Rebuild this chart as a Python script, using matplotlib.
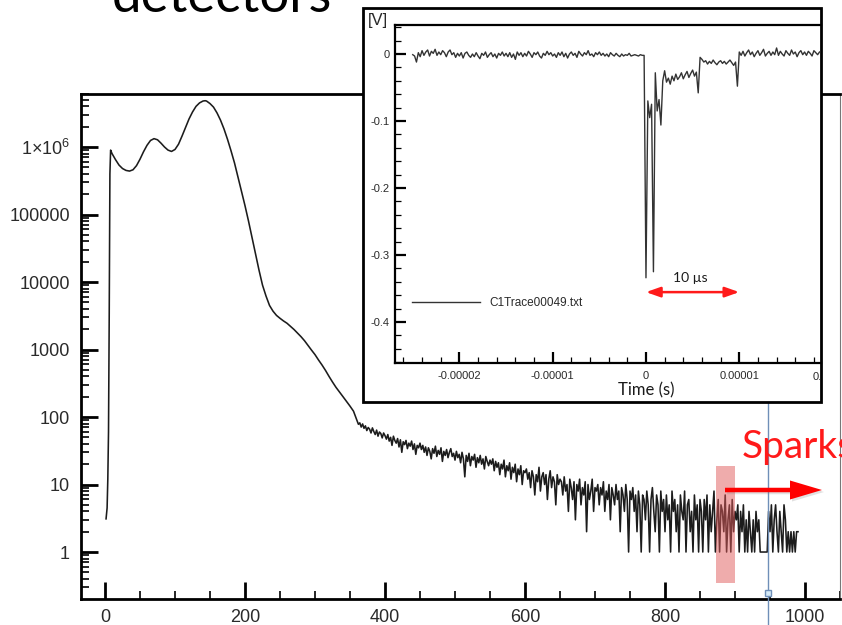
import numpy as np
import matplotlib
matplotlib.use("Agg")
import matplotlib.pyplot as plt
from matplotlib.ticker import MultipleLocator, LogLocator, FuncFormatter, NullFormatter, FixedLocator
from matplotlib.patches import Rectangle, FancyArrow
from matplotlib.lines import Line2D
from matplotlib.transforms import blended_transform_factory

plt.rcParams["font.family"] = ["Liberation Sans", "DejaVu Sans"]
plt.rcParams["axes.unicode_minus"] = False
plt.rcParams["mathtext.fontset"] = "custom"
plt.rcParams["mathtext.rm"] = "Liberation Sans"
plt.rcParams["mathtext.it"] = "Liberation Sans:italic"
plt.rcParams["mathtext.bf"] = "Liberation Sans:bold"

# ---------------- pulse-height spectrum (counts per channel) ----------------
peak_channels = [1.5, 3, 4, 5, 6, 7, 8, 10, 15, 20, 25, 30, 35, 40, 45, 50, 55, 60, 65, 70,
                 75, 80, 85, 90, 95, 100, 105, 110, 115, 120, 125, 130, 135, 140, 143,
                 145, 150, 155, 160, 165, 170, 175, 180, 185, 190, 195, 200, 205, 210,
                 215, 220, 225, 230, 235, 240, 245, 250, 255, 260, 265, 270, 275, 280,
                 285, 290, 295, 300, 305, 310, 315, 320, 325, 330, 335, 340, 345, 350, 355]
peak_counts = [3.1, 4.5, 12, 60, 3000, 4.0e5, 9.0e5, 8.0e5, 6.5e5, 5.4e5, 4.8e5, 4.5e5,
               4.4e5, 4.6e5, 5.3e5, 6.6e5, 8.5e5, 1.06e6, 1.25e6, 1.33e6, 1.28e6, 1.14e6,
               1.0e6, 9.0e5, 8.6e5, 9.2e5, 1.1e6, 1.45e6, 1.95e6, 2.6e6, 3.3e6, 4.0e6,
               4.5e6, 4.8e6, 4.85e6, 4.8e6, 4.4e6, 3.9e6, 3.2e6, 2.5e6, 1.85e6, 1.3e6,
               8.8e5, 5.8e5, 3.6e5, 2.2e5, 1.35e5, 8.0e4, 4.6e4, 2.6e4, 1.5e4, 9.0e3,
               6.2e3, 4.5e3, 3.7e3, 3.2e3, 2.9e3, 2.65e3, 2.45e3, 2.2e3, 1.98e3, 1.75e3,
               1.55e3, 1.35e3, 1.15e3, 980, 840, 700, 590, 490, 400, 330, 275, 235, 200,
               170, 145, 122]

tail_start, tail_step = 360, 2
tail_counts = [
    88, 78, 82, 71, 79, 68, 74, 63, 70, 66, 58, 69, 61, 55, 64, 52, 60, 57, 49, 58, 53,
    47, 55, 44, 50, 38, 52, 45, 41, 48, 36, 46, 30, 43, 39, 45, 34, 41, 37, 44, 33, 40, 28, 38, 35, 41,
    33, 38, 30, 36, 27, 35, 31, 24, 34, 29, 37, 26, 32, 28, 35, 22, 31, 27, 33, 25, 30, 34, 26, 29, 23,
    31, 25, 28, 21, 30, 24, 13, 27, 22, 29, 19, 26, 23, 28, 18, 25, 21, 27, 20, 24, 17, 26, 22, 19, 23,
    20, 24, 16, 22, 18, 21, 14, 20, 17, 23, 13, 19, 16, 21, 12, 18, 15, 20, 11, 17, 14, 19, 10, 16, 15,
    17, 12, 15, 9, 16, 13, 7, 14, 11, 18, 8, 13, 15, 10, 14, 6, 12, 16, 9, 13, 11, 5, 14, 10, 12,
    11, 7, 13, 8, 10, 4, 12, 9, 6, 11, 3, 10, 8, 12, 5, 9, 7, 11, 2, 10, 6, 8, 12, 4, 9,
    8, 10, 5, 9, 7, 11, 4, 8, 6, 10, 3, 9, 7, 5, 10, 6, 8, 2, 9, 7, 4, 10, 6, 1, 8,
    6, 9, 4, 7, 2, 8, 5, 1, 7, 6, 3, 8, 5, 1, 6, 9, 4, 2, 7, 5, 1, 8, 4, 6, 2,
    7, 3, 5, 1, 8, 4, 6, 2, 5, 1, 7, 4, 3, 8, 1, 5, 6, 2, 4, 1, 7, 3, 5, 1, 6,
    4, 1, 6, 3, 7, 1, 5, 2, 4, 8, 1, 3, 6, 1, 5, 4, 2, 7, 1, 3, 5, 1, 6, 2, 4,
    3, 5, 1, 4, 2, 5, 1, 3, 1, 4, 2, 1, 3, 1, 4, 2, 3, 1, 1, 1, 1, 1, 1, 4, 2,
    5, 1, 3, 5, 2, 1, 4, 2, 1, 5, 3, 1, 2, 1, 2, 1, 2, 1, 2, 2,
]
x_ticks_main = [0, 200, 400, 600, 800, 1000]
y_ticks_main = [1, 10, 100, 1000, 10000, 100000, 1000000]
spark_window = (873, 900)      # channels highlighted as sparks
cursor_channel = 947

# ---------------- oscilloscope trace (volts, in mV) ----------------
trace_t0, trace_dt = -2.5e-5, 2e-7
trace_mv = [
    -1, -3, -12, 2, -4, 5, -2, 3, 6, -3, 4, 1, 7, -2, 3, -1, 5, 2, -4, 3, 6, -1, 2, -5, 1,
    -3, 2, -6, 1, 3, -2, -5, 0, -4, 2, -3, -7, 1, -2, 3, -5, -1, 2, -4, 0, -6, 1, -2, 3, -3,
    1, -4, 2, -5, 0, -8, 3, -2, 2, -4, 1, -3, 4, 0, -5, 2, -1, 3, -3, -6, 1, -2, 4, -1, 2,
    -3, 0, -5, 2, -2, 3, -4, 1, -6, 0, 3, -2, 1, -5, 4, 0, -3, 2, -1, 5, -2, 0, -4, 2, -1,
    3, -2, 1, -3, 0, -4, 2, -1, -3, 1, -2, -4, 0, -3, -1, -2, 1, -3, -2, -1, -2, -3, -1, -2, -2,
    -334, -70, -95, -75, -325, -28, -85, -68, -106, -40, -25,
    -42, -36, -45, -33, -40, -30, -38, -34, -28, -37, -31, -26, -35, -29, -24, -33, -27,
    -58, -5,
    -8, -12, -10, -15, -11, -14, -9, -13, -16, -12, -10, -14, -11, -15, -12, -9, -13, -17, -12,
    -48, 3,
    -2, 4, -3, 2, 6, -1, 3, -4, 1, 5, -2, 2, 7, -3, 1, 4, -2, 3, -1, 9, -2, 4, 0, -3, 5,
    1, -2, 6, 0, 3, -4, 2, 5, -1, 3, -2, 4, 1, -3, 5, 2, -1, 3,
]
trace_name = "C1Trace00049.txt"
scale_bar = (0.0, 1.0e-5)      # 10 microseconds

# ---------------- figure ----------------
W, H = 842, 625
fig = plt.figure(figsize=(W / 100, H / 100), dpi=100, facecolor="white")


def fx(px):
    return px / W


def fy(py):
    return 1 - py / H


# main spectrum axes
ax = fig.add_axes([fx(81), fy(599), fx(840) - fx(81), fy(94) - fy(599)], zorder=0)
channels = np.concatenate([peak_channels,
                           tail_start + tail_step * np.arange(len(tail_counts))])
counts = np.concatenate([peak_counts, tail_counts])
ax.plot(channels, counts, color="#1c1c1c", lw=1.15, zorder=2)
ax.set_yscale("log")
ax.set_xlim(-34.3, 1050)
ax.set_ylim(0.2014, 6.1e6)

ax.xaxis.set_major_locator(FixedLocator(x_ticks_main))
ax.xaxis.set_minor_locator(MultipleLocator(50))
ax.yaxis.set_major_locator(FixedLocator(y_ticks_main))
ax.yaxis.set_minor_locator(LogLocator(base=10, subs=np.arange(2, 10), numticks=20))
ax.yaxis.set_minor_formatter(NullFormatter())


def log_label(v, pos):
    e = int(round(np.log10(v)))
    if e >= 6:
        return r"$1{\times}10^{%d}$" % e
    return "%d" % round(v)


ax.yaxis.set_major_formatter(FuncFormatter(log_label))
ax.tick_params(which="both", direction="in", top=False, right=False, colors="black",
               labelcolor="#2a2a2a")
ax.tick_params(which="major", length=12, width=2.0, labelsize=13)
ax.tick_params(which="minor", length=6, width=1.2)
ax.tick_params(axis="y", which="major", pad=8)
ax.tick_params(axis="x", which="major", pad=7)
for side in ("left", "bottom", "top"):
    ax.spines[side].set_linewidth(2.0)
    ax.spines[side].set_color("black")
ax.spines["right"].set_linewidth(0.8)
ax.spines["right"].set_color("#777777")

ax.axvspan(spark_window[0], spark_window[1], ymin=0.0317, ymax=0.263,
           facecolor="#e05a5a", alpha=0.5, lw=0, zorder=3)

# cursor line
cx = ax.transData.transform((cursor_channel, 1))[0] / W
fig.add_artist(Line2D([cx, cx], [0, fy(94)], transform=fig.transFigure,
                      color="#6f8fb8", lw=1.0, zorder=1))
fig.add_artist(Line2D([cx], [fy(593)], transform=fig.transFigure, marker="s", ms=5,
                      mfc="#d6ebf8", mec="#6f8fb8", mew=1.0, zorder=1.1))

# inset frame and trace axes
frame = Rectangle((fx(363), fy(402)), fx(821) - fx(363), fy(8) - fy(402),
                  transform=fig.transFigure, facecolor="white", edgecolor="black",
                  lw=2.0, zorder=2)
fig.add_artist(frame)

ax_in = fig.add_axes([fx(395), fy(363), fx(821) - fx(395), fy(25) - fy(363)], zorder=3)
ax_in.patch.set_alpha(0)
t = trace_t0 + trace_dt * np.arange(len(trace_mv))
ax_in.plot(t, np.array(trace_mv) / 1000.0, color="#333333", lw=1.0, label=trace_name)
ax_in.set_xlim(-2.69e-5, 1.876e-5)
ax_in.set_ylim(-0.4612, 0.0433)
ax_in.xaxis.set_major_locator(MultipleLocator(1e-5))
ax_in.xaxis.set_minor_locator(MultipleLocator(2e-6))
ax_in.yaxis.set_major_locator(MultipleLocator(0.1))
ax_in.yaxis.set_minor_locator(MultipleLocator(0.02))


def time_label(v, pos):
    return "0" if abs(v) < 1e-12 else "%.5f" % v


def volt_label(v, pos):
    return "0" if abs(v) < 1e-9 else "%g" % round(v, 3)


ax_in.xaxis.set_major_formatter(FuncFormatter(time_label))
ax_in.yaxis.set_major_formatter(FuncFormatter(volt_label))
ax_in.tick_params(which="both", direction="in", top=False, right=False,
                  labelcolor="#2a2a2a", labelsize=8)
ax_in.tick_params(which="major", length=8, width=1.6)
ax_in.tick_params(which="minor", length=4, width=0.9)
ax_in.tick_params(axis="x", which="major", pad=6)
ax_in.tick_params(axis="y", which="major", pad=4)
for side in ("left", "bottom", "top"):
    ax_in.spines[side].set_linewidth(1.6)
ax_in.spines["right"].set_visible(False)

# partially hidden last tick label, cut by the frame
cut = ax_in.text(2e-5, -0.027, time_label(2e-5, None),
                 transform=blended_transform_factory(ax_in.transData, ax_in.transAxes),
                 ha="center", va="top", fontsize=8, color="#2a2a2a", clip_on=True)
cut.set_clip_path(frame)

ax_in.legend(loc="center left", bbox_to_anchor=(0.0399, 0.1775), frameon=False,
             fontsize=8.5, handlelength=5.8, handletextpad=0.75, borderpad=0,
             borderaxespad=0, labelcolor="#2a2a2a")

ax_in.annotate("", xy=(scale_bar[1], -0.3554), xytext=(scale_bar[0], -0.3554),
               arrowprops=dict(arrowstyle="<|-|>,head_length=0.85,head_width=0.3",
                               color="#ff1a1a", lw=1.8, shrinkA=0, shrinkB=0,
                               mutation_scale=10))
ax_in.text((scale_bar[0] + scale_bar[1]) / 2 - 0.03e-5, -0.3405, "10 µs", fontsize=10,
           family=["Lato", "DejaVu Sans"], ha="center", va="baseline", color="#1a1a1a")

fig.text(fx(378), fy(20), "[V]", ha="center", va="center", fontsize=12, color="#2a2a2a",
         zorder=4)
fig.text(fx(646), fy(390), "Time (s)", ha="center", va="center", fontsize=12,
         family=["Lato", "DejaVu Sans"], color="#1a1a1a", zorder=4)

# slide title fragment and spark annotation
fig.text(fx(112), fy(12), "detectors", ha="left", va="baseline", fontsize=38,
         family=["Lato", "DejaVu Sans"], color="black", zorder=4)
fig.text(fx(742), fy(458), "Sparks", ha="left", va="baseline", fontsize=28,
         family=["Lato", "DejaVu Sans"], color="#ff1a1a", zorder=5)
shadow = FancyArrow(7.27, 1.33, 0.97, 0, width=0.045, head_width=0.19, head_length=0.32,
                    length_includes_head=True, transform=fig.dpi_scale_trans,
                    color="#888888", alpha=0.25, lw=0, zorder=4)
fig.add_artist(shadow)
arrow = FancyArrow(7.25, 1.35, 0.97, 0, width=0.045, head_width=0.19, head_length=0.32,
                   length_includes_head=True, transform=fig.dpi_scale_trans,
                   color="#ff0000", lw=0, zorder=5)
fig.add_artist(arrow)

fig.savefig("out.png", dpi=100, facecolor="white")
